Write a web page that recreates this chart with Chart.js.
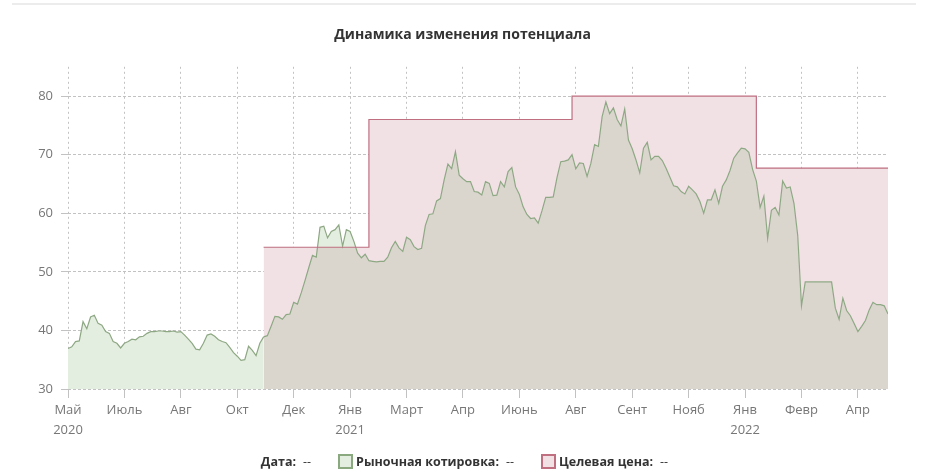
<!DOCTYPE html>
<html>
<head>
<meta charset="utf-8">
<script src="https://cdn.jsdelivr.net/npm/chart.js@4.4.1/dist/chart.umd.min.js"></script>
<style>
  body { margin: 0; background: #fff; font-family: 'Open Sans', sans-serif; }
  #wrap { position: relative; width: 929px; height: 476px; }
  #topline { position: absolute; left: 12px; top: 3px; width: 904px; height: 2px; background: #ececec; }
  #legend { position: absolute; left: 0; top: 452px; width: 929px; height: 18px; display: flex; justify-content: center; align-items: center; font-size: 12.5px; color: #333; }
  #legend b { font-weight: 700; }
  #legend .v { margin-left: 7px; margin-right: 27px; }
  #legend .box { width: 11px; height: 11px; border: 2px solid; margin-right: 3px; }
</style>
</head>
<body>
<div id="wrap">
  <div id="topline"></div>
  <canvas id="myChart"></canvas>
  <div id="legend">
    <b>Дата:</b><span class="v">--</span>
    <span class="box" style="border-color:#8ba97f;background:#e4eee0"></span><b>Рыночная котировка:</b><span class="v">--</span>
    <span class="box" style="border-color:#bf6f80;background:#f1e1e5"></span><b>Целевая цена:</b><span class="v" style="margin-right:0">--</span>
  </div>
</div>
<script>
const myChartObject = document.getElementById('myChart');

// tick labels, one every 15 trading days
const tickLabels = [['Май', '2020'], 'Июль', 'Авг', 'Окт', 'Дек', ['Янв', '2021'], 'Март', 'Апр',
                    'Июнь', 'Авг', 'Сент', 'Нояб', ['Янв', '2022'], 'Февр', 'Апр'];

// market quote, by trading day
const price = [
  36.9, 37.2, 38.1, 38.2, 41.5, 40.3, 42.3, 42.6, 41.2, 40.9,
  39.8, 39.5, 38.1, 37.8, 37.0, 37.8, 38.1, 38.5, 38.4, 38.9,
  39.0, 39.5, 39.8, 39.8, 39.9, 39.9, 39.8, 39.8, 39.9, 39.7,
  39.8, 39.2, 38.5, 37.8, 36.8, 36.7, 37.8, 39.2, 39.4, 39.0,
  38.4, 38.1, 37.9, 37.1, 36.2, 35.6, 34.9, 35.0, 37.3, 36.6,
  35.7, 37.8, 38.9, 39.1, 40.7, 42.4, 42.3, 41.9, 42.7, 42.8,
  44.8, 44.5, 46.4, 48.5, 50.7, 52.8, 52.5, 57.6, 57.8, 55.8,
  56.9, 57.2, 58.0, 54.4, 57.2, 56.9, 55.2, 53.2, 52.4, 53.0,
  51.9, 51.8, 51.7, 51.8, 51.8, 52.5, 54.1, 55.2, 54.1, 53.5,
  55.9, 55.5, 54.3, 53.8, 54.0, 57.9, 59.8, 59.9, 62.1, 62.5,
  65.7, 68.4, 67.6, 70.5, 66.5, 65.9, 65.4, 65.4, 63.7, 63.6,
  63.1, 65.4, 65.1, 63.0, 63.1, 65.4, 64.5, 67.1, 67.8, 64.5,
  63.2, 61.1, 59.8, 59.1, 59.2, 58.3, 60.4, 62.7, 62.7, 62.8,
  66.1, 68.8, 68.9, 69.1, 70.0, 67.6, 68.6, 68.5, 66.3, 68.5,
  71.7, 71.4, 76.5, 79.0, 77.0, 78.0, 76.0, 74.9, 77.8, 72.5,
  71.0, 69.1, 66.9, 71.1, 72.1, 69.1, 69.7, 69.7, 69.0, 67.7,
  66.2, 64.7, 64.5, 63.7, 63.3, 64.6, 64.0, 63.3, 62.0, 60.0,
  62.3, 62.3, 64.0, 61.7, 64.6, 65.7, 67.3, 69.4, 70.3, 71.1,
  71.0, 70.4, 67.5, 65.5, 61.0, 62.9, 55.7, 60.5, 61.0, 59.7,
  65.5, 64.3, 64.5, 61.7, 56.2, 44.2, 48.3, 48.3, 48.3, 48.3,
  48.3, 48.3, 48.3, 48.3, 43.8, 41.9, 45.5, 43.4, 42.5, 41.2,
  39.8, 40.7, 41.7, 43.5, 44.8, 44.4, 44.4, 44.2, 42.8
];

// target price: trading day it was set, and value
const targetDays = [52, 80, 134, 183, 218];
const targetValues = [54.2, 76, 80, 67.7, 67.7];

const green = '#e4eee0';
const pink = '#f1e1e5';
const beige = '#dad6ce';

// true when a tick value falls on one of the 15-day marks
const onMark = v => Math.abs(v / 15 - Math.round(v / 15)) < 1e-6;

const cfg = {
    type: 'line',
    data: {
        labels: price.map((v, i) => i),
        datasets: [{
            label: 'Целевая цена',
            data: targetDays.map((d, k) => ({x: d, y: targetValues[k]})),
            borderColor: '#bf6f80',
            borderWidth: 1.2,
            stepped: true,
            pointRadius: 0,
            fill: {target: 1, above: pink, below: green}
        }, {
            label: 'Рыночная котировка',
            data: price,
            borderColor: '#8ea884',
            backgroundColor: green,
            borderWidth: 1.2,
            tension: 0,
            pointRadius: 0,
            fill: 'start',
            segment: {
                backgroundColor: ctx => ctx.p0DataIndex >= targetDays[0] ? beige : green
            }
        }]
    },
    options: {
        responsive: true,
        maintainAspectRatio: false,
        animation: false,
        layout: {padding: {left: 37, right: 41, top: 0, bottom: 37}},
        plugins: {
            legend: {display: false},
            tooltip: {enabled: false},
            filler: {drawTime: 'beforeDatasetsDraw'},
            title: {
                display: true,
                text: 'Динамика изменения потенциала',
                color: '#333',
                font: {family: 'Open Sans', size: 14, weight: 'bold'},
                padding: {top: 27, bottom: 23}
            }
        },
        scales: {
            x: {
                type: 'linear',
                min: 0,
                max: price.length - 1,
                z: 1,
                afterFit: scale => { scale.height = 50; },
                afterBuildTicks: scale => { scale.ticks = scale.ticks.filter(t => onMark(t.value)); },
                ticks: {
                    stepSize: 15,
                    includeBounds: false,
                    autoSkip: false,
                    maxRotation: 0,
                    padding: 3,
                    color: '#777',
                    font: {family: 'Open Sans', size: 13, lineHeight: 1.5},
                    callback: value => tickLabels[Math.round(value / 15)]
                },
                grid: {color: '#c2c2c2', tickLength: 9},
                border: {display: false, dash: [2, 3]}
            },
            y: {
                min: 30,
                max: 85,
                z: 1,
                afterFit: scale => { scale.width = 31; },
                afterBuildTicks: scale => { scale.ticks = scale.ticks.filter(t => t.value % 10 === 0); },
                ticks: {
                    stepSize: 10,
                    includeBounds: false,
                    padding: 8,
                    color: '#777',
                    font: {family: 'Open Sans', size: 13}
                },
                grid: {color: '#c2c2c2', tickLength: 7},
                border: {display: false, dash: [3, 2]}
            }
        }
    }
};

let chart = new Chart(myChartObject, cfg);
</script>
</body>
</html>
